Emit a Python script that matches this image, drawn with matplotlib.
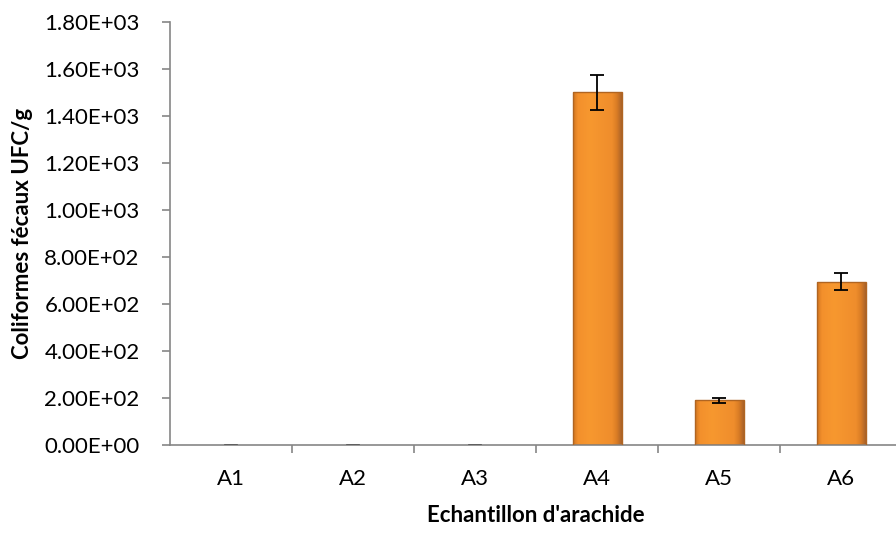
import matplotlib.pyplot as plt
import numpy as np
from matplotlib.colors import LinearSegmentedColormap

echantillons = ['A1', 'A2', 'A3', 'A4', 'A5', 'A6']
coliformes = [0, 0, 0, 1500, 190, 695]
erreurs = [0, 0, 0, 75, 10, 35]
yticks = [0, 200, 400, 600, 800, 1000, 1200, 1400, 1600, 1800]

plt.rcParams['font.family'] = ['Lato', 'DejaVu Sans']

fig = plt.figure(figsize=(8.96, 5.33), dpi=100)
ax = fig.add_axes([0.19, 0.165, 0.817, 0.794])

x = np.arange(len(echantillons))
bars = ax.bar(x, coliformes, width=0.4, color='#F5922D', edgecolor='none', zorder=2)

# degrade horizontal facon excel (bords plus sombres)
cmap = LinearSegmentedColormap.from_list('orange', [
    (0.0, '#D27620'), (0.1, '#F3902C'), (0.35, '#F7982F'),
    (0.8, '#EF8D2C'), (0.9, '#D97C25'), (1.0, '#A9622A')])
grad = np.linspace(0, 1, 200).reshape(1, -1)
for b in bars:
    if b.get_height() > 0:
        im = ax.imshow(grad, cmap=cmap, aspect='auto', zorder=2.5,
                       extent=(b.get_x(), b.get_x() + b.get_width(), 0, b.get_height()))
        im.set_clip_path(b)
        ax.bar(b.get_x() + b.get_width() / 2, b.get_height(), width=b.get_width(),
               color='none', edgecolor='#B06522', linewidth=1.0, zorder=2.6)

for xi, v in zip(x, coliformes):
    if v == 0:
        ax.plot([xi - 0.05, xi + 0.05], [0, 0], color='#555555', lw=1.2, zorder=3)
ax.errorbar(x[3:], coliformes[3:], yerr=erreurs[3:], fmt='none', ecolor='black',
            elinewidth=1.3, capsize=5, capthick=1.3, zorder=4)

ax.set_xlim(-0.5, 5.5)
ax.set_ylim(0, 1800)
ax.set_yticks(yticks)
ax.set_yticklabels(['%.2E' % v for v in yticks], fontsize=16)
ax.set_xticks(x)
ax.set_xticklabels(echantillons, fontsize=16)
ax.set_xticks(np.arange(0.5, 6, 1), minor=True)
ax.tick_params(axis='x', which='major', length=0, pad=17)
ax.tick_params(axis='x', which='minor', length=6, color='#868686', width=1.2)
ax.tick_params(axis='y', length=6, color='#868686', width=1.2, pad=16)

for s in ['top', 'right']:
    ax.spines[s].set_visible(False)
for s in ['left', 'bottom']:
    ax.spines[s].set_color('#868686')
    ax.spines[s].set_linewidth(1.2)

ax.set_ylabel('Coliformes fécaux UFC/g', fontsize=16, fontweight='bold', labelpad=8)
ax.set_xlabel("Echantillon d'arachide", fontsize=16, fontweight='bold', labelpad=12)

fig.savefig('out.png', dpi=100)
